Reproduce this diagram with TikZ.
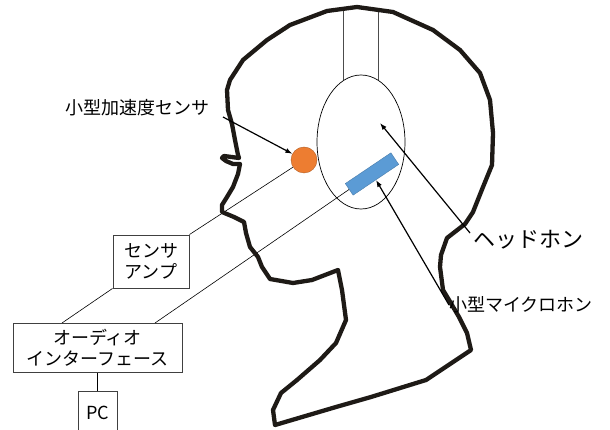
\documentclass[tikz,border=0pt]{standalone}
\usepackage{fontspec}
\setmainfont{Noto Sans CJK JP}
\usetikzlibrary{arrows.meta,shapes.geometric}
\definecolor{accorange}{HTML}{ED7D31}
\definecolor{micblue}{HTML}{5B9BD5}
\definecolor{headink}{HTML}{1E1A16}
\pgfdeclarelayer{bg}
\pgfsetlayers{bg,main}

\tikzset{
  unit/.style={draw=black!75, line width=0.9pt, align=center, inner sep=0pt,
    font=\fontsize{18}{21}\selectfont},
  lbl/.style={inner sep=0pt, anchor=west, font=\fontsize{18}{21}\selectfont},
  wire/.style={line width=0.6pt},
  band/.style={line width=0.7pt, draw=black!70},
  pointer/.style={line width=1.2pt, -{Latex[length=7pt,width=5pt]}},
  headline/.style={line width=4.3pt, draw=headink, line join=round},
}

\begin{document}
\begin{tikzpicture}[x=1pt,y=-1pt]
        \useasboundingbox (0,0) rectangle (610,430);
        \clip (0,0) rectangle (610,430);
        % head in profile
        \draw[headline] (227,90) -- (228,110) -- (232,124) -- (235,140) -- (238,155)
                -- (239,158) -- (224,156) -- (222,158) -- (226,161) -- (233,164) -- (240,164)
                -- (238,174) -- (233,187) -- (227,197) -- (222,205) -- (222,212)
                -- (234,217) -- (244,222) -- (246,233) -- (250,247) -- (258,257)
                -- (262,267) -- (270,279) -- (293,283) -- (312,280) -- (338,270)
                -- (342,290) -- (346,320) -- (336,343) -- (320,360) -- (297,380)
                -- (281,393) -- (273,410) -- (275,425)
                -- (336,407) -- (371,397) -- (426,380) -- (471,350)
                -- (467,333) -- (459,317) -- (449,300) -- (443,290) -- (440,267)
                -- (441,255) -- (447,238) -- (465,224) -- (473,212) -- (483,187)
                -- (492,165) -- (493,133) -- (490,100) -- (480,73) -- (460,50)
                -- (433,30) -- (393,12) -- (357,7) -- (327,11) -- (290,25)
                -- (267,40) -- (243,60) -- (230,80) -- cycle;
        % headphone, sensor and microphone
        \node (phone) [draw, ellipse, line width=0.7pt, minimum width=88pt, minimum height=134pt, inner sep=0pt] at (361,142) {};
        \node (acc) [circle, fill=accorange, draw=accorange!75!black, minimum size=26pt, inner sep=0pt] at (304,160) {};
        \node (mic) [fill=micblue, draw=micblue!80!black, rotate=34, minimum width=55pt, minimum height=14pt, inner sep=0pt] at (372,174) {};
        % boxes
        \node (amp) [unit, minimum width=76pt, minimum height=53pt] at (151,261.5) {センサ\\アンプ};
        \node (audio) [unit, minimum width=169pt, minimum height=49pt] at (97.5,347.5) {オーディオ\\インターフェース};
        \node (pc) [unit, minimum width=39pt, minimum height=44pt] at (97.5,413) {PC};
        % labels
        \node (acclbl) [lbl] at (65,108) {小型加速度センサ};
        \node (phonelbl) [lbl, font=\fontsize{22}{26}\selectfont] at (473,240) {ヘッドホン};
        \node (miclbl) [lbl] at (449,305) {小型マイクロホン};
        \coordinate (accfrom) at (223,117);
        \coordinate (phonefrom) at (470,233);
        \coordinate (phoneto) at (380,123);
        \coordinate (ampin) at (62,323);
        \coordinate (micin) at (155,323);
        \begin{pgfonlayer}{bg}
                \draw[band] (phone.106) -- ++(0,-72);
                \draw[band] (phone.74) -- ++(0,-72);
                \draw[wire] (acc) -- (amp.north east);
                \draw[wire] (amp.south west) -- (ampin);
                \draw[wire] (mic.west) -- (micin);
                \draw[wire] (audio.south) -- (pc.north);
        \end{pgfonlayer}
        \draw[pointer] (accfrom) -- (acc);
        \draw[pointer] (phonefrom) -- (phoneto);
        \draw[pointer] (miclbl.west) -- (mic.south);
\end{tikzpicture}
\end{document}
